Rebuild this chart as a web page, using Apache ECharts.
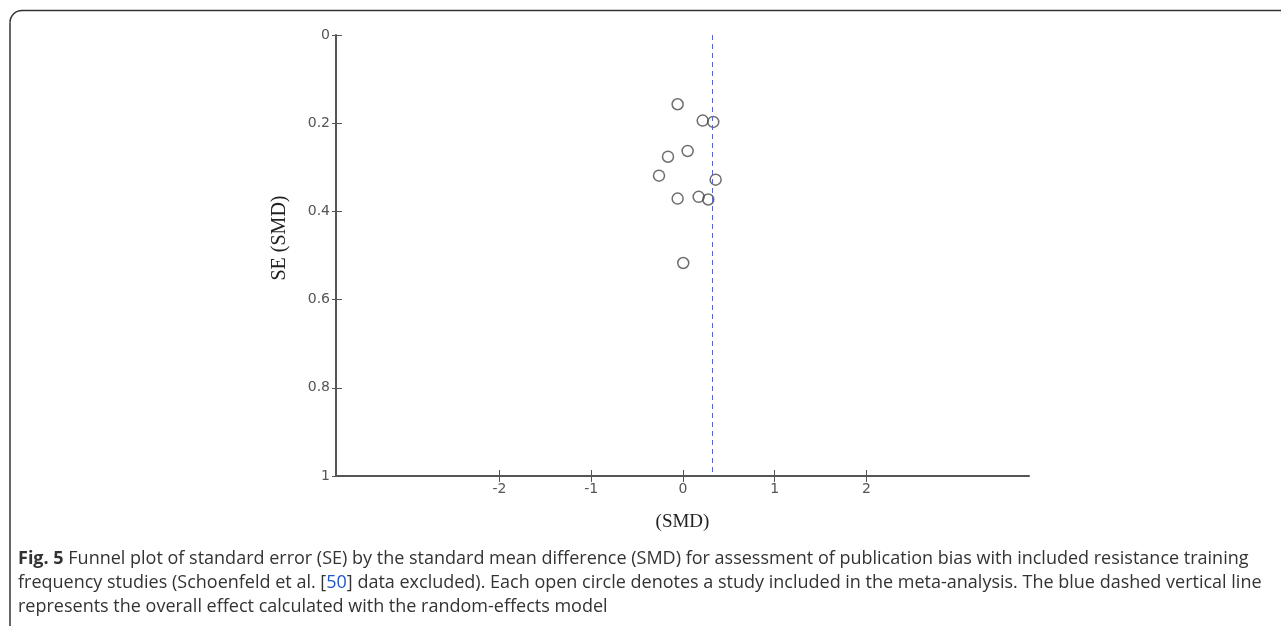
<!DOCTYPE html>
<html>
<head>
<meta charset="utf-8">
<title>Funnel plot</title>
<script src="https://cdn.jsdelivr.net/npm/echarts@6.0.0/dist/echarts.min.js"></script>
<style>
  html, body { margin: 0; padding: 0; background: #fff; }
  #chart { width: 1281px; height: 626px; }
</style>
</head>
<body>
<div id="chart"></div>
<script>
// study points: SMD (x) and SE (y)
var smd = [-0.058, 0.215, 0.33, 0.051, -0.163, -0.261, 0.356, -0.058, 0.171, 0.276, 0.003];
var se  = [0.157, 0.194, 0.197, 0.263, 0.276, 0.319, 0.328, 0.371, 0.367, 0.373, 0.517];
var overallEffect = 0.32;
var xTicks = [-2, -1, 0, 1, 2];
var yTicks = [0, 0.2, 0.4, 0.6, 0.8, 1];

var points = smd.map(function (v, i) { return [v, se[i]]; });

var chart = echarts.init(document.getElementById('chart'));
var axisColor = '#555';
var labelFont = { fontFamily: 'DejaVu Sans', fontSize: 14, color: '#555' };
var gridW = 693, gridH = 441;
var frameStyle = { stroke: '#333', lineWidth: 1.5, fill: null };

var option = {
    animation: false,
    grid: { left: 336, top: 35, width: gridW, height: gridH, containLabel: false },
    xAxis: [{
        type: 'value', min: -3.78, max: 3.77,
        name: '(SMD)', nameLocation: 'middle', nameGap: 37,
        nameTextStyle: { fontFamily: 'Liberation Serif', fontSize: 19, color: '#222' },
        axisLine: { onZero: false, lineStyle: { color: axisColor, width: 2 } },
        axisTick: { customValues: xTicks, length: 6, lineStyle: { color: axisColor, width: 1 } },
        axisLabel: Object.assign({ customValues: xTicks, margin: 6 }, labelFont),
        splitLine: { show: false }
    }, {
        // inner half of the crossing ticks, moved down onto the bottom line
        type: 'value', min: -3.78, max: 3.77, position: 'top', offset: -gridH,
        axisLine: { show: false, onZero: false },
        axisTick: { customValues: xTicks, length: 6, lineStyle: { color: axisColor, width: 1 } },
        axisLabel: { show: false },
        splitLine: { show: false }
    }],
    yAxis: [{
        type: 'value', min: 0, max: 1, inverse: true,
        name: 'SE (SMD)', nameLocation: 'middle', nameGap: 46, nameRotate: 90,
        nameTextStyle: { fontFamily: 'Liberation Serif', fontSize: 20, color: '#222', padding: [0, 0, 0, 35] },
        axisLine: { show: true, onZero: false, lineStyle: { color: axisColor, width: 2 } },
        axisTick: { show: true, customValues: yTicks, length: 4, lineStyle: { color: axisColor, width: 1 } },
        axisLabel: Object.assign({ customValues: yTicks, margin: 6 }, labelFont),
        splitLine: { show: false }
    }, {
        type: 'value', min: 0, max: 1, inverse: true, position: 'right', offset: -gridW,
        axisLine: { show: false, onZero: false },
        axisTick: { show: true, customValues: yTicks, length: 6, lineStyle: { color: axisColor, width: 1 } },
        axisLabel: { show: false },
        splitLine: { show: false }
    }],
    series: [{
        type: 'scatter',
        data: points,
        symbol: 'circle',
        symbolSize: 11,
        itemStyle: { color: 'rgba(0,0,0,0)', borderColor: '#4a4a4a', borderWidth: 1.5 },
        markLine: {
            silent: true,
            symbol: 'none',
            label: { show: false },
            lineStyle: { color: '#5566cc', type: [5, 4], width: 1 },
            data: [[{ coord: [overallEffect, 0] }, { coord: [overallEffect, 1] }]]
        }
    }],
    graphic: [
        // figure frame: left edge, rounded corner, top edge
        { type: 'line', shape: { x1: 10, y1: 626, x2: 10, y2: 22.5 }, style: frameStyle },
        { type: 'arc', shape: { cx: 22, cy: 22.5, r: 12, startAngle: Math.PI, endAngle: Math.PI * 1.5 }, style: frameStyle },
        { type: 'line', shape: { x1: 22, y1: 10.5, x2: 1281, y2: 10.5 }, style: frameStyle },
        {
            type: 'text', left: 18, top: 550,
            style: {
                text: '{b|Fig. 5} Funnel plot of standard error (SE) by the standard mean difference (SMD) for assessment of publication bias with included resistance training',
                font: '18px "Open Sans"', fill: '#333',
                rich: { b: { fontFamily: 'Open Sans', fontSize: 18, fontWeight: 'bold', fill: '#333' } }
            }
        }, {
            type: 'text', left: 18, top: 574,
            style: {
                text: 'frequency studies (Schoenfeld et al. [{l|50}] data excluded). Each open circle denotes a study included in the meta-analysis. The blue dashed vertical line',
                font: '18px "Open Sans"', fill: '#333',
                rich: { l: { fontFamily: 'Open Sans', fontSize: 18, fill: '#2255cc' } }
            }
        }, {
            type: 'text', left: 18, top: 598,
            style: {
                text: 'represents the overall effect calculated with the random-effects model',
                font: '18px "Open Sans"', fill: '#333'
            }
        }
    ]
};

chart.setOption(option);
</script>
</body>
</html>
